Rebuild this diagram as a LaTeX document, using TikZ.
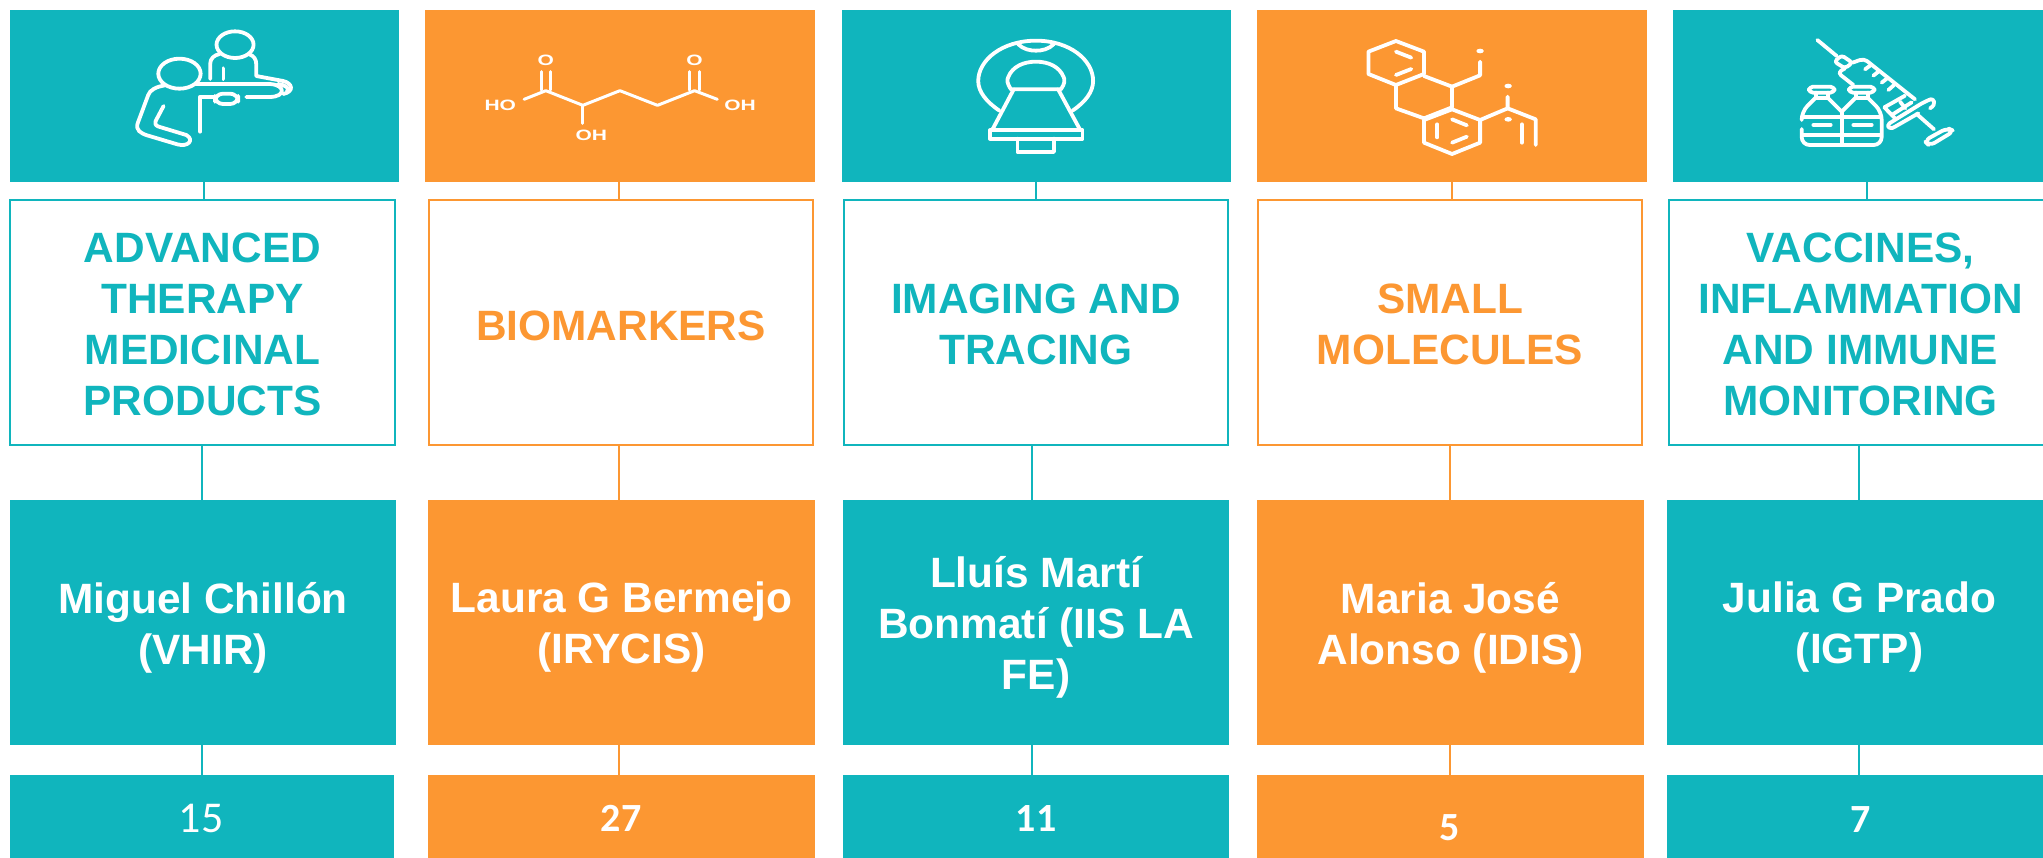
\documentclass[tikz,border=0pt]{standalone}
\usepackage{fontspec}
\setmainfont{Liberation Sans}
\newfontfamily\carlitofont{Carlito}
\definecolor{tealc}{HTML}{10B5BD}
\definecolor{orangec}{HTML}{FC9732}
\tikzset{
  boxbase/.style={rectangle,inner sep=0pt,outer sep=0pt,align=center},
  tealbox/.style={boxbase,fill=tealc,text=white,font=\fontsize{21.2}{25.5}\selectfont\bfseries},
  orangebox/.style={boxbase,fill=orangec,text=white,font=\fontsize{21.2}{25.5}\selectfont\bfseries},
  tealtitle/.style={boxbase,draw=tealc,line width=1.2pt,fill=white,text=tealc,font=\fontsize{21.2}{25.5}\selectfont\bfseries},
  orangetitle/.style={boxbase,draw=orangec,line width=1.2pt,fill=white,text=orangec,font=\fontsize{21.2}{25.5}\selectfont\bfseries},
  tealline/.style={draw=tealc,line width=1.2pt},
  orangeline/.style={draw=orangec,line width=1.2pt},
  iconline/.style={draw=white,line width=1.9pt,line cap=round,line join=round},
  thinicon/.style={draw=white,line width=1.5pt,line cap=round,line join=round},
  iconlabel/.style={text=white,inner sep=0pt,font=\fontsize{7.5}{9}\selectfont\bfseries},
  numlabel/.style={text=white,inner sep=0pt},
}
% name, style, x1, y1, x2, y2, text shift, text
\newcommand{\bx}[8]{%
  \pgfmathsetmacro\cxx{(#3+#5)/2}\pgfmathsetmacro\cyy{(#4+#6)/2}%
  \pgfmathsetmacro\ww{(#5-#3)/2}\pgfmathsetmacro\hh{(#6-#4)/2}%
  \pgfmathsetmacro\tyy{\cyy+#7}%
  \node[#2,minimum width=\ww pt,minimum height=\hh pt] (#1) at (\cxx,\cyy) {};
  \node[#2,draw=none,fill=none] (#1t) at (\cxx,\tyy) {#8};}
\newcommand{\wide}[1]{\scalebox{1.4}[1]{#1}}
\begin{document}
\begin{tikzpicture}[x=0.5pt,y=-0.5pt]
\useasboundingbox (0,0) rectangle (2043,857);
\clip (0,0) rectangle (2043,857);
\fill[white] (0,0) rectangle (2043,857);
% row 1
\bx{ia}{tealbox}{10}{10}{399}{182}{0}{}
\bx{ib}{orangebox}{425}{10}{815}{182}{0}{}
\bx{ic}{tealbox}{842}{10}{1231}{182}{0}{}
\bx{id}{orangebox}{1257}{10}{1647}{182}{0}{}
\bx{ie}{tealbox}{1673}{10}{2060}{182}{0}{}
% row 2
\bx{ta}{tealtitle}{10}{200}{395}{445}{2}{ADVANCED\\THERAPY\\MEDICINAL\\PRODUCTS}
\bx{tb}{orangetitle}{429}{200}{813}{445}{3}{BIOMARKERS}
\bx{tc}{tealtitle}{844}{200}{1228}{445}{2}{IMAGING AND\\TRACING}
\bx{td}{orangetitle}{1258}{200}{1642}{445}{2}{SMALL\\MOLECULES}
\bx{te}{tealtitle}{1669}{200}{2052}{445}{2}{VACCINES,\\INFLAMMATION\\AND IMMUNE\\MONITORING}
% row 3
\bx{na}{tealbox}{10}{500}{396}{745}{5}{Miguel Chillón\\(VHIR)}
\bx{nb}{orangebox}{428}{500}{815}{745}{5}{Laura G Bermejo\\(IRYCIS)}
\bx{nc}{tealbox}{843}{500}{1229}{745}{5}{Lluís Martí\\Bonmatí (IIS LA\\FE)}
\bx{nd}{orangebox}{1257}{500}{1644}{745}{5}{Maria José\\Alonso (IDIS)}
\bx{ne}{tealbox}{1667}{500}{2052}{745}{5}{Julia G Prado\\(IGTP)}
% row 4
\bx{ca}{tealbox}{10}{775}{394}{870}{0}{}
\bx{cb}{orangebox}{428}{775}{815}{870}{0}{}
\bx{cc}{tealbox}{843}{775}{1229}{870}{0}{}
\bx{cd}{orangebox}{1257}{775}{1644}{870}{0}{}
\bx{ce}{tealbox}{1667}{775}{2052}{870}{0}{}
\node[numlabel,font=\carlitofont\fontsize{22}{26}\selectfont] (la) at (201,818) {15};
\node[numlabel,font=\carlitofont\bfseries\fontsize{20}{24}\selectfont] (lb) at (621,818) {27};
\node[numlabel,font=\carlitofont\bfseries\fontsize{20}{24}\selectfont] (lc) at (1036,818) {11};
\node[numlabel,font=\carlitofont\bfseries\fontsize{20}{24}\selectfont] (ld) at (1450,828) {5};
\node[numlabel,font=\carlitofont\bfseries\fontsize{20}{24}\selectfont] (le) at (1861,820) {7};
% connector columns
\coordinate (xa1) at (204,0); \coordinate (xa2) at (202,0);
\coordinate (xb1) at (619,0); \coordinate (xb2) at (619,0);
\coordinate (xc1) at (1036,0); \coordinate (xc2) at (1032,0);
\coordinate (xd1) at (1452,0); \coordinate (xd2) at (1450,0);
\coordinate (xe1) at (1867,0); \coordinate (xe2) at (1859,0);
\draw[tealline] (ia.south -| xa1) -- (ta.north -| xa1);
\draw[tealline] (ta.south -| xa2) -- (na.north -| xa2);
\draw[tealline] (na.south -| xa2) -- (ca.north -| xa2);
\draw[orangeline] (ib.south -| xb1) -- (tb.north -| xb1);
\draw[orangeline] (tb.south -| xb2) -- (nb.north -| xb2);
\draw[orangeline] (nb.south -| xb2) -- (cb.north -| xb2);
\draw[tealline] (ic.south -| xc1) -- (tc.north -| xc1);
\draw[tealline] (tc.south -| xc2) -- (nc.north -| xc2);
\draw[tealline] (nc.south -| xc2) -- (cc.north -| xc2);
\draw[orangeline] (id.south -| xd1) -- (td.north -| xd1);
\draw[orangeline] (td.south -| xd2) -- (nd.north -| xd2);
\draw[orangeline] (nd.south -| xd2) -- (cd.north -| xd2);
\draw[tealline] (ie.south -| xe1) -- (te.north -| xe1);
\draw[tealline] (te.south -| xe2) -- (ne.north -| xe2);
\draw[tealline] (ne.south -| xe2) -- (ce.north -| xe2);
% icon 1 and 2: zoom coordinates
\begin{scope}[x=0.2647pt,y=-0.16667pt]
\begin{scope}[iconline]
\draw (339,221) ellipse [x radius=40,y radius=45];
\draw (444,134) ellipse [x radius=35,y radius=40];
\draw (397,237) -- (397,192) .. controls (397,175) and (405,165) .. (415,162);
\draw (470,162) .. controls (480,168) and (484,178) .. (484,192) -- (484,228) -- (535,243) .. controls (553,250) and (556,275) .. (535,282);
\draw (422,205) -- (422,237);
\draw (370,252) -- (510,252) .. controls (540,255) and (540,290) .. (510,291) -- (465,291);
\draw (525,252) .. controls (540,255) and (548,265) .. (542,275);
\draw (312,256) .. controls (295,260) and (283,270) .. (280,285) -- (260,370) .. controls (256,390) and (265,400) .. (280,407) -- (335,433) .. controls (355,442) and (368,420) .. (352,405) -- (300,380) .. controls (293,376) and (292,370) .. (294,363) -- (309,318);
\draw (378,395) -- (378,290) -- (405,290);
\draw[rounded corners=4pt] (406,281) rectangle (450,312);
\end{scope}
% molecule
\begin{scope}[thinicon]
\draw (1022,215) -- (1022,270);
\draw (1040,215) -- (1040,270);
\draw (990,298) -- (1031,272) -- (1101,316) -- (1171,272) -- (1242,316) -- (1312,272) -- (1355,298);
\draw (1101,316) -- (1101,370);
\draw (1303,215) -- (1303,270);
\draw (1321,215) -- (1321,270);
\end{scope}
\node[iconlabel] (oa) at (1031,181) {\wide{O}};
\node[iconlabel] (ob) at (1312,181) {\wide{O}};
\node[iconlabel] (ho) at (945,316) {\wide{HO}};
\node[iconlabel] (oh) at (1398,316) {\wide{OH}};
\node[iconlabel] (oc) at (1117,406) {\wide{OH}};
\end{scope}
% icon 3 and 4
\begin{scope}[shift={(830,0)},x=0.2647pt,y=-0.16667pt]
\begin{scope}[iconline]
\draw (320,332) .. controls (295,305) and (280,275) .. (280,243) .. controls (280,180) and (325,122) .. (389,122) .. controls (453,122) and (497,180) .. (497,243) .. controls (497,275) and (483,305) .. (458,332);
\draw (355,132) .. controls (365,148) and (378,152) .. (389,152) .. controls (400,152) and (413,148) .. (423,132);
\draw (342,268) .. controls (334,250) and (334,240) .. (337,230) .. controls (345,200) and (365,185) .. (389,185) .. controls (413,185) and (433,200) .. (441,230) .. controls (444,240) and (444,250) .. (436,268) -- cycle;
\draw (347,268) -- (306,391);
\draw (431,268) -- (473,391);
\draw (302,391) rectangle (477,416);
\draw (354,416) -- (354,456) -- (423,456) -- (423,416);
% hex molecule
\draw (1069,123) -- (1122,155) -- (1122,222) -- (1069,255) -- (1017,222) -- (1017,155) -- cycle;
\draw (1069,155) -- (1098,173);
\draw (1069,225) -- (1098,207);
\draw (1122,228) -- (1175,260) -- (1175,322) -- (1122,355) -- (1069,325) -- (1069,258);
\draw (1175,328) -- (1228,360) -- (1228,428) -- (1175,462) -- (1122,428) -- (1122,360) -- cycle;
\draw (1175,358) -- (1203,376);
\draw (1175,428) -- (1203,410);
\draw (1147,373) -- (1147,412);
\draw (1175,260) -- (1228,226) -- (1228,185);
\draw (1228,360) -- (1280,325) -- (1280,290);
\draw (1280,325) -- (1333,358) -- (1333,435);
\draw (1307,373) -- (1307,428);
\fill[white] (1228,153) circle [x radius=7,y radius=7];
\fill[white] (1281,258) circle [x radius=7,y radius=7];
\fill[white] (1281,358) circle [x radius=7,y radius=7];
\end{scope}
\end{scope}
% icon 5: crop coordinates
\begin{scope}[shift={(1790,30)},x=0.16667pt,y=-0.16667pt]
\begin{scope}[iconline]
% syringe
\draw (82,30) -- (140,78);
\draw[rounded corners=1.5pt] (133,95) -- (155,76) -- (187,98) -- (165,115) -- cycle;
\draw[rounded corners=2pt] (165,115) -- (143,128) -- (190,165);
\draw[rounded corners=2pt] (187,98) -- (222,86) -- (375,208);
\draw (225,118) -- (240,107);
\draw (250,137) -- (265,125);
\draw (275,158) -- (290,146);
\draw (295,180) -- (312,165);
\draw (283,232) -- (345,197);
\draw (305,255) -- (365,217);
\draw (330,215) -- (346,235);
\draw (283,232) -- (315,265);
\draw[rounded corners=3pt] (298,280) -- (405,214) .. controls (430,205) and (442,222) .. (420,235);
\draw (298,280) .. controls (285,292) and (305,300) .. (315,290) -- (385,250);
\draw (380,252) -- (432,298);
\draw[rounded corners=3pt] (403,332) -- (472,294) -- (492,303) -- (418,348) -- cycle;
% vials
\draw[rounded corners=2pt] (57,170) rectangle (133,188);
\draw[rounded corners=2pt] (177,170) rectangle (253,188);
\draw (77,188) -- (77,203) -- (113,203) -- (113,188);
\draw (197,188) -- (197,203) -- (233,203) -- (233,188);
\draw[rounded corners=4pt] (35,270) -- (35,245) -- (77,203);
\draw (113,203) -- (155,245) -- (197,203);
\draw[rounded corners=4pt] (233,203) -- (275,245) -- (275,345) -- (35,345) -- (35,297);
\draw (155,245) -- (155,345);
\draw (38,260) -- (272,260);
\draw (38,315) -- (272,315);
\draw (70,285) -- (122,285);
\draw (190,285) -- (245,285);
\end{scope}
\end{scope}
\end{tikzpicture}
\end{document}
